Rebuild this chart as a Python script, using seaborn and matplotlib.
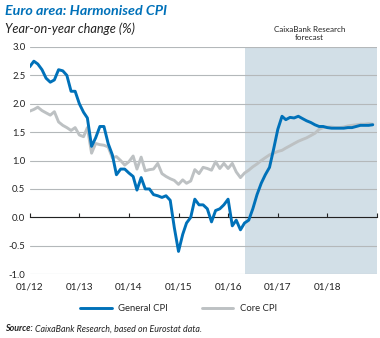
import numpy as np
import pandas as pd
import matplotlib
matplotlib.use("Agg")
import matplotlib.pyplot as plt
import matplotlib.dates as mdates
import seaborn as sns

# ---- data (monthly, Jan 2012 - Dec 2018) ----
general_cpi = [
    2.65, 2.75, 2.70, 2.60, 2.45, 2.38, 2.42, 2.60, 2.58, 2.50, 2.22, 2.22,
    2.00, 1.85, 1.75, 1.25, 1.40, 1.60, 1.60, 1.30, 1.10, 0.75, 0.85, 0.85,
    0.78, 0.72, 0.48, 0.70, 0.50, 0.50, 0.40, 0.38, 0.35, 0.38, 0.30, -0.18,
    -0.60, -0.30, -0.10, 0.00, 0.32, 0.22, 0.22, 0.15, -0.08, 0.12, 0.15, 0.22,
    0.32, -0.15, -0.05, -0.22, -0.10, -0.05, 0.15, 0.40, 0.60, 0.75, 0.88, 1.20,
    1.55, 1.78, 1.72, 1.76, 1.75, 1.78, 1.74, 1.70, 1.67, 1.63, 1.60, 1.60,
    1.58, 1.57, 1.57, 1.57, 1.57, 1.58, 1.58, 1.60, 1.62, 1.62, 1.62, 1.63,
]
core_cpi = [
    1.87, 1.90, 1.94, 1.88, 1.84, 1.80, 1.86, 1.68, 1.62, 1.58, 1.53, 1.58,
    1.45, 1.42, 1.58, 1.13, 1.30, 1.28, 1.27, 1.24, 1.05, 1.07, 1.00, 0.92,
    0.98, 1.08, 0.85, 1.06, 0.82, 0.84, 0.85, 0.95, 0.77, 0.72, 0.68, 0.65,
    0.58, 0.66, 0.60, 0.64, 0.84, 0.77, 0.88, 0.86, 0.83, 0.98, 0.86, 0.95,
    0.86, 0.95, 0.80, 0.70, 0.78, 0.83, 0.89, 0.94, 1.00, 1.05, 1.10, 1.13,
    1.16, 1.18, 1.22, 1.26, 1.30, 1.34, 1.37, 1.40, 1.44, 1.48, 1.55, 1.58,
    1.59, 1.59, 1.58, 1.58, 1.59, 1.61, 1.62, 1.63, 1.64, 1.64, 1.65, 1.64,
]
start_month = "2012-01-01"
forecast_start = "2016-05-01"
axis_end = "2019-01-01"
series_names = ["General CPI", "Core CPI"]
year_ticks = [2012, 2013, 2014, 2015, 2016, 2017, 2018]
y_ticks = [-1.0, -0.5, 0.0, 0.5, 1.0, 1.5, 2.0, 2.5, 3.0]

dates = pd.date_range(start_month, periods=len(general_cpi), freq="MS")
df = pd.DataFrame({
    "date": np.concatenate([dates, dates]),
    "value": general_cpi + core_cpi,
    "series": [series_names[0]] * len(dates) + [series_names[1]] * len(dates),
})

BLUE = "#0071B9"
GREY = "#BDC1C3"
SHADE = "#D2DFE7"
DARK = "#222222"

sns.set_theme(style="white")
plt.rcParams["font.family"] = ["Lato", "DejaVu Sans"]
plt.rcParams["axes.unicode_minus"] = False

fig = plt.figure(figsize=(3.8, 3.38), dpi=100)
ax = fig.add_axes([0.078, 0.189, 0.914, 0.672])

ax.axvspan(pd.Timestamp(forecast_start), pd.Timestamp(axis_end), color=SHADE, lw=0, zorder=0)

sns.lineplot(data=df, x="date", y="value", hue="series", palette=[BLUE, GREY],
             hue_order=series_names, linewidth=2.1, ax=ax, legend=False, zorder=3)
lines = ax.get_lines()
lines[1].set_zorder(2)

ax.set_xlim(pd.Timestamp(start_month), pd.Timestamp(axis_end))
ax.set_ylim(-1.0, 3.0)
ax.set_yticks(y_ticks)
ax.set_yticklabels([f"{v:.1f}" for v in y_ticks], fontsize=6.8, color=DARK)
ax.yaxis.grid(True, color="#B4B8BA", lw=0.8)
for g in ax.get_ygridlines():
    g.set_zorder(1)
ax.tick_params(axis="y", length=0, pad=3)
ax.set_xlabel("")
ax.set_ylabel("")

for s in ["left", "right", "top"]:
    ax.spines[s].set_visible(False)
ax.spines["bottom"].set_position(("data", 0))
ax.spines["bottom"].set_color(DARK)
ax.spines["bottom"].set_linewidth(0.8)
ax.spines["bottom"].set_zorder(1.5)
tick_dates = [pd.Timestamp(f"{y}-01-01") for y in year_ticks + [year_ticks[-1] + 1]]
ax.set_xticks(tick_dates)
ax.tick_params(axis="x", direction="in", length=3, width=0.8, color=DARK,
               labelbottom=False, bottom=True)

sec = ax.secondary_xaxis(0.0)
sec.set_xticks([pd.Timestamp(f"{y}-01-01") for y in year_ticks])
sec.set_xticklabels([f"01/{y % 100:02d}" for y in year_ticks], fontsize=7.2, color=DARK)
sec.tick_params(length=0, pad=6)
sec.spines["bottom"].set_visible(False)

fig.text(0.012, 0.968, "Euro area: Harmonised CPI", fontsize=10.3, fontweight="bold",
         fontstyle="italic", color=BLUE, va="center", ha="left")
fig.text(0.012, 0.915, "Year-on-year change (%)", fontsize=9.2, fontstyle="italic",
         color=DARK, va="center", ha="left")
fig.text(0.815, 0.900, "CaixaBank Research\nforecast", fontsize=5.8, color=DARK,
         ha="center", va="center", linespacing=1.15)

handles = [plt.Line2D([], [], color=BLUE, lw=2.1), plt.Line2D([], [], color=GREY, lw=2.1)]
fig.legend(handles, series_names, loc="center", bbox_to_anchor=(0.47, 0.086), ncol=2,
           frameon=False, fontsize=6.8, handlelength=3.3, columnspacing=3.6, handletextpad=0.7)

t1 = fig.text(0.012, 0.027, "Source:", fontsize=6.4, fontweight="bold", fontstyle="italic",
              color=DARK, va="center", ha="left")
fig.canvas.draw()
bb = t1.get_window_extent(renderer=fig.canvas.get_renderer())
x_next = bb.x1 / fig.bbox.width + 0.008
fig.text(x_next, 0.027, "CaixaBank Research, based on Eurostat data.", fontsize=6.4,
         fontstyle="italic", color=DARK, va="center", ha="left")

fig.savefig("out.png", dpi=100)
